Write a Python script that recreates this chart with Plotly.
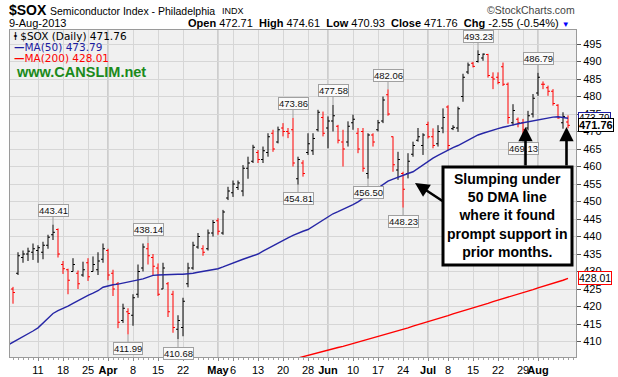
import pandas as pd
import plotly.graph_objects as go

# ---------------- data ----------------
HOLIDAYS = {"2013-03-29", "2013-05-27", "2013-07-04"}
trading_days = [d.strftime("%Y-%m-%d") for d in pd.bdate_range("2013-03-01", "2013-08-09")
                if d.strftime("%Y-%m-%d") not in HOLIDAYS]
bar_dates = trading_days[1:]          # 4-Mar-2013 .. 9-Aug-2013

opens = [
    425.0, 429.5, 434.0, 435.0, 435.5,
    436.0, 435.5, 437.5, 440.5, 442.0,
    432.0, 430.5, 430.0, 429.5, 429.0,
    432.5, 430.0, 430.5, 433.5,
    436.0, 429.5, 426.5, 416.0, 418.5,
    417.5, 423.5, 431.0, 436.5, 434.0,
    431.0, 425.0, 426.5, 423.5, 413.5,
    414.0, 426.5, 431.0, 437.0, 436.5,
    436.5, 441.0, 444.5, 441.0, 451.0,
    452.5, 454.0, 453.0, 459.5, 461.5,
    464.0, 462.0, 464.0, 469.5, 467.0,
    471.0, 470.0, 470.5, 456.5, 461.0,
    464.0, 464.5, 470.5, 474.0,
    471.0, 473.0, 471.5, 467.0, 467.0,
    472.5, 469.5, 470.0, 458.0, 469.0,
    470.5, 473.0, 480.5, 468.5, 459.0,
    458.0, 458.0, 463.5, 467.5, 466.0,
    472.0, 468.5, 466.5, 471.0,
    477.0, 470.8, 471.0, 480.0, 487.0,
    489.5, 490.0, 491.0, 492.0, 485.5,
    485.5, 488.5, 483.5, 472.5, 473.5,
    472.5, 471.0, 475.0, 481.0, 483.5,
    482.5, 481.5, 477.5, 472.5, 472.71,
]
highs = [
    425.6, 435.5, 436.0, 436.8, 438.0,
    437.5, 438.5, 440.5, 443.41, 442.3,
    433.0, 430.8, 433.8, 430.3, 432.8,
    433.8, 434.3, 435.5, 438.0,
    436.5, 430.5, 427.0, 420.8, 419.5,
    423.5, 432.0, 438.0, 438.14, 435.0,
    432.3, 432.5, 427.0, 424.5, 417.5,
    422.5, 432.5, 438.5, 441.0, 437.5,
    442.0, 444.7, 445.2, 447.6, 454.2,
    456.0, 456.0, 460.4, 462.8, 466.2,
    464.7, 465.7, 469.5, 470.5, 471.4,
    472.4, 471.0, 473.86, 462.8, 461.8,
    469.5, 469.5, 476.2, 475.7,
    474.3, 477.58, 471.9, 470.5, 472.9,
    474.8, 471.0, 471.0, 469.5, 469.5,
    473.3, 480.0, 482.06, 468.6, 464.2,
    458.5, 463.8, 467.1, 471.0, 469.5,
    472.8, 470.9, 471.8, 476.6,
    477.5, 471.8, 477.1, 486.5, 489.7,
    489.9, 493.23, 492.3, 492.2, 486.9,
    486.9, 489.7, 484.0, 477.8, 474.0,
    473.6, 475.9, 480.7, 486.79, 484.3,
    483.1, 482.1, 477.8, 475.5, 474.61,
]
lows = [
    420.8, 429.0, 432.5, 433.0, 433.3,
    432.5, 433.5, 436.5, 439.0, 434.0,
    429.3, 423.5, 430.0, 425.0, 428.5,
    427.3, 430.0, 429.0, 432.5,
    427.5, 423.0, 413.8, 415.3, 411.99,
    414.5, 422.5, 430.0, 432.0, 429.0,
    423.0, 425.0, 417.0, 412.5, 410.68,
    411.5, 425.5, 430.5, 436.5, 434.5,
    436.0, 440.0, 440.5, 440.5, 450.4,
    451.3, 453.3, 451.5, 456.5, 461.0,
    461.0, 461.0, 462.8, 464.2, 466.6,
    468.6, 468.1, 460.0, 454.81, 457.1,
    463.3, 463.3, 470.0, 468.6,
    465.2, 470.0, 466.6, 460.0, 465.7,
    470.5, 463.8, 458.5, 456.5, 465.7,
    470.0, 472.4, 474.5, 458.5, 456.2,
    448.23, 456.6, 462.8, 467.1, 463.3,
    468.0, 465.2, 465.7, 469.5,
    464.7, 470.4, 469.9, 478.5, 486.4,
    488.3, 489.7, 490.2, 485.4, 482.1,
    483.5, 483.0, 472.2, 471.7, 471.2,
    469.13, 470.3, 474.0, 480.2, 482.1,
    480.2, 477.4, 473.6, 470.8, 470.93,
]
closes = [
    424.0, 434.5, 435.0, 435.8, 436.5,
    436.8, 437.5, 439.8, 441.2, 435.0,
    430.8, 427.5, 432.0, 426.5, 430.5,
    428.5, 432.0, 433.0, 436.5,
    429.0, 425.0, 415.5, 419.5, 418.0,
    422.5, 430.0, 437.0, 434.5, 431.5,
    423.5, 431.0, 418.5, 414.0, 416.0,
    421.5, 431.0, 437.5, 440.0, 435.5,
    441.0, 444.0, 441.5, 447.0, 453.0,
    455.0, 455.3, 459.5, 461.0, 465.5,
    462.0, 464.5, 468.5, 465.0, 470.5,
    470.0, 469.5, 461.0, 462.0, 458.0,
    466.5, 468.0, 475.5, 469.5,
    473.0, 474.5, 467.5, 465.0, 471.5,
    473.5, 465.0, 459.5, 469.0, 467.0,
    472.5, 479.0, 475.0, 460.5, 462.0,
    453.5, 461.5, 466.0, 468.5, 469.0,
    468.5, 466.0, 470.0, 474.0,
    466.0, 471.2, 476.5, 485.5, 489.0,
    488.6, 492.0, 492.1, 486.0, 485.0,
    484.0, 483.5, 474.0, 476.0, 472.5,
    470.5, 474.5, 479.5, 485.5, 483.5,
    481.5, 478.0, 473.9, 474.31, 471.76,
]
# MA(50), 1-Mar-2013 .. 9-Aug-2013
ma50 = [
    409.0, 409.8, 410.5, 411.2, 412.0, 413.0,
    413.9, 415.2, 416.6, 418.0, 418.8,
    419.4, 420.1, 420.9, 421.7, 422.5,
    423.2, 423.8, 424.5, 425.5,
    425.9, 426.2, 426.4, 426.7, 426.9,
    427.2, 427.5, 427.9, 428.4, 428.9,
    429.0, 429.1, 429.2, 429.2, 429.2,
    429.2, 429.3, 429.5, 429.8, 430.0,
    430.3, 430.5, 430.8, 431.3, 431.9,
    432.5, 433.1, 433.5, 434.0, 434.5,
    435.0, 435.8, 436.6, 437.4, 438.2,
    438.9, 439.6, 440.3, 441.0, 441.5,
    442.0, 442.9, 443.8, 444.7,
    445.6, 446.5, 447.1, 447.7, 448.3,
    449.1, 449.9, 450.9, 451.9, 452.8,
    453.8, 454.8, 455.8, 456.4, 457.0,
    457.5, 458.0, 458.5, 459.5, 460.5,
    461.5, 462.4, 463.2, 464.0,
    464.8, 465.4, 466.0, 466.8, 467.6,
    468.4, 469.0, 469.5, 470.0, 470.4,
    470.8, 471.2, 471.6, 471.9, 472.2,
    472.5, 472.8, 473.1, 473.4, 473.7,
    473.9, 474.1, 474.2, 474.1, 473.79,
]
# MA(200), 22-May-2013 .. 9-Aug-2013
ma200 = [
    404.9, 405.3, 405.7,
    406.0, 406.4, 406.8, 407.1,
    407.5, 407.9, 408.3, 408.6, 409.0,
    409.4, 409.8, 410.1, 410.5, 410.9,
    411.3, 411.8, 412.2, 412.6, 413.1,
    413.5, 413.9, 414.4, 414.8, 415.2,
    415.7, 416.1, 416.6, 417.0,
    417.4, 417.9, 418.3, 418.8, 419.2,
    419.6, 420.1, 420.5, 420.9, 421.4,
    421.8, 422.2, 422.7, 423.1, 423.5,
    424.0, 424.4, 424.8, 425.3, 425.7,
    426.1, 426.6, 427.0, 427.5, 428.01,
]
ma200_dates = bar_dates[-len(ma200):]

tick_dates = ["2013-03-11", "2013-03-18", "2013-03-25", "2013-04-01", "2013-04-08",
              "2013-04-15", "2013-04-22", "2013-05-01", "2013-05-06", "2013-05-13",
              "2013-05-20", "2013-05-28", "2013-06-03", "2013-06-10", "2013-06-17",
              "2013-06-24", "2013-07-01", "2013-07-08", "2013-07-15", "2013-07-22",
              "2013-07-29", "2013-08-01"]
tick_text = ["11", "18", "25", "<b>Apr</b>", "8", "15", "22", "<b>May</b>", "6", "13",
             "20", "28", "<b>Jun</b>", "10", "17", "24", "<b>Jul</b>", "8", "15", "22",
             "29", "<b>Aug</b>"]
month_dates = ["2013-04-01", "2013-05-01", "2013-06-03", "2013-07-01", "2013-08-01"]

# extreme-price call-outs: (date, value, above?)
callouts = [
    ("2013-03-14", 443.41, True), ("2013-04-05", 411.99, False),
    ("2013-04-11", 438.14, True), ("2013-04-19", 410.68, False),
    ("2013-05-22", 473.86, True), ("2013-05-23", 454.81, False),
    ("2013-06-04", 477.58, True), ("2013-06-13", 456.50, False),
    ("2013-06-19", 482.06, True), ("2013-06-24", 448.23, False),
    ("2013-07-16", 493.23, True), ("2013-07-29", 469.13, False),
    ("2013-08-01", 486.79, True),
]

# ---------------- geometry helpers ----------------
pos = {d: i - 1 for i, d in enumerate(trading_days)}   # 1-Mar -> -1, 4-Mar -> 0
W, H = 618, 377
ML, MR, MT, MB = 10, 42, 30, 20
PL, PR, PT, PB = ML, W - MR, MT, H - MB


def px(x):
    return (x - PL) / (PR - PL)


def py(y):
    return (PB - y) / (PB - PT)


bar_x = [pos[d] for d in bar_dates]
prev_close = [opens[0]] + closes[:-1]
is_up = [c >= p for c, p in zip(closes, prev_close)]

FONT = "Liberation Sans, Arial, sans-serif"
VFONT = "DejaVu Sans, Verdana, sans-serif"

fig = go.Figure()


def add_bars(mask, color):
    sel = [i for i, m in enumerate(mask) if m]
    fig.add_trace(go.Ohlc(
        x=[bar_x[i] for i in sel],
        open=[opens[i] for i in sel], high=[highs[i] for i in sel],
        low=[lows[i] for i in sel], close=[closes[i] for i in sel],
        increasing=dict(line=dict(color=color, width=1)),
        decreasing=dict(line=dict(color=color, width=1)),
        tickwidth=0.4, hoverinfo="skip", showlegend=False))


fig.add_trace(go.Scatter(x=[pos[d] for d in trading_days], y=ma50, mode="lines",
                         line=dict(color="#2626A6", width=1.4), hoverinfo="skip"))
fig.add_trace(go.Scatter(x=[pos[d] for d in ma200_dates], y=ma200, mode="lines",
                         line=dict(color="#FF0000", width=1.4), hoverinfo="skip"))
add_bars(is_up, "#000000")
add_bars([not u for u in is_up], "#FF0000")

shapes = []
for d in month_dates:
    shapes.append(dict(type="line", xref="x", yref="paper", x0=pos[d], x1=pos[d], y0=0, y1=1,
                       line=dict(color="#ABABAB", width=1), layer="between"))
# note box
shapes.append(dict(type="rect", xref="paper", yref="paper",
                   x0=px(443), x1=px(572), y0=py(265), y1=py(167),
                   line=dict(color="black", width=3), fillcolor="white", layer="above"))

ann = []
# header
ann.append(dict(xref="paper", yref="paper", x=px(7), y=py(10), xanchor="left", yanchor="middle",
                text="<b>$SOX</b>", showarrow=False, font=dict(family=FONT, size=14, color="black")))
ann.append(dict(xref="paper", yref="paper", x=px(48), y=py(11), xanchor="left", yanchor="middle",
                text="Semiconductor Index - Philadelphia", showarrow=False,
                font=dict(family=FONT, size=10.5, color="black")))
ann.append(dict(xref="paper", yref="paper", x=px(220), y=py(11), xanchor="left", yanchor="middle",
                text="INDX", showarrow=False, font=dict(family=FONT, size=9, color="black")))
ann.append(dict(xref="paper", yref="paper", x=px(577), y=py(10), xanchor="right", yanchor="middle",
                text="©StockCharts.com", showarrow=False, font=dict(family=FONT, size=10.5, color="#444")))
ann.append(dict(xref="paper", yref="paper", x=px(7), y=py(23), xanchor="left", yanchor="middle",
                text="9-Aug-2013", showarrow=False, font=dict(family=FONT, size=11, color="black")))
ann.append(dict(xref="paper", yref="paper", x=px(572), y=py(23), xanchor="right", yanchor="middle",
                text=("<b>Open</b> 472.71  <b>High</b> 474.61  <b>Low</b> 470.93  "
                      "<b>Close</b> 471.76  <b>Chg</b> -2.55 (-0.54%) "
                      "<span style='color:#0000FF;font-size:8px'>▼</span>"),
                showarrow=False, font=dict(family=FONT, size=11, color="black")))
# in-chart legend
ann.append(dict(xref="paper", yref="paper", x=px(12), y=py(36), xanchor="left", yanchor="middle",
                text="ⱡ $SOX (Daily) 471.76", showarrow=False, font=dict(family=VFONT, size=10.5, color="black")))
ann.append(dict(xref="paper", yref="paper", x=px(12), y=py(47), xanchor="left", yanchor="middle",
                text="<b>—</b>MA(50) 473.79", showarrow=False, font=dict(family=VFONT, size=10.5, color="#1C1CA0")))
ann.append(dict(xref="paper", yref="paper", x=px(12), y=py(58), xanchor="left", yanchor="middle",
                text="<b>—</b>MA(200) 428.01", showarrow=False, font=dict(family=VFONT, size=10.5, color="#FF0000")))
ann.append(dict(xref="paper", yref="paper", x=px(14), y=py(72), xanchor="left", yanchor="middle",
                text="<b>www.CANSLIM.net</b>", showarrow=False, font=dict(family=FONT, size=14.5, color="#1B8A1B")))

# price call-outs
for d, v, above in callouts:
    ann.append(dict(x=pos[d], y=v, xref="x", yref="y", text=f"{v:.2f}", showarrow=True,
                    arrowhead=0, arrowwidth=1, arrowcolor="#A0A0A0", ax=0, ay=-14 if above else 14,
                    standoff=0, bgcolor="#FAFAFA", bordercolor="#A0A0A0", borderwidth=1, borderpad=0,
                    font=dict(family=FONT, size=9.5, color="#111")))

# right-axis value tags
for v, col, size, bold in [(473.79, "#1C1CA0", 10, False), (471.76, "black", 11, True),
                           (428.01, "#FF0000", 10.5, False)]:
    ann.append(dict(xref="paper", yref="y", x=1, y=v, xanchor="left", yanchor="middle", xshift=2,
                    text=f"<b>{v:.2f}</b>" if bold else f"{v:.2f}", showarrow=False,
                    bgcolor="white", bordercolor=col, borderwidth=1, borderpad=0,
                    font=dict(family=FONT, size=size, color="black")))

# note text and arrows
ann.append(dict(xref="paper", yref="paper", x=px(507.5), y=py(216), xanchor="center", yanchor="middle",
                text="<b>Slumping under<br>50 DMA line<br>where it found<br>prompt support in<br>prior months.</b>",
                showarrow=False, align="center", font=dict(family=FONT, size=14, color="black")))
for hx, hy, dx, dy in [(415, 183, 29, 19), (525.5, 127, 0, 40), (566.5, 127, 0, 40)]:
    ann.append(dict(xref="paper", yref="paper", x=px(hx), y=py(hy), ax=dx, ay=dy, text="",
                    showarrow=True, arrowhead=2, arrowsize=1.1, arrowwidth=2.6, arrowcolor="black",
                    standoff=0))

fig.update_layout(
    width=W, height=H, margin=dict(l=ML, r=MR, t=MT, b=MB, autoexpand=False),
    paper_bgcolor="white", plot_bgcolor="#F0F0F0", showlegend=False,
    font=dict(family=FONT, size=11, color="black"),
    shapes=shapes, annotations=ann,
    xaxis=dict(range=[-0.6, 112.6], tickmode="array", tickvals=[pos[d] for d in tick_dates],
               ticktext=tick_text, tickangle=0, automargin=False,
               showgrid=True, gridcolor="#D6D6D6", gridwidth=1, zeroline=False,
               ticks="outside", ticklen=3, tickcolor="#888", showline=True, linecolor="#9A9A9A",
               mirror=True, rangeslider=dict(visible=False), fixedrange=True,
               tickfont=dict(family=FONT, size=11, color="black"),
               minor=dict(tickmode="linear", dtick=1, tick0=0, ticklen=2, tickcolor="#A0A0A0",
                          ticks="outside", showgrid=False)),
    yaxis=dict(range=[405.57, 499.0], side="right", tickmode="linear", tick0=410, dtick=5,
               automargin=False,
               showgrid=True, gridcolor="#D6D6D6", gridwidth=1, zeroline=False,
               ticks="outside", ticklen=4, tickcolor="#555", showline=True, linecolor="#9A9A9A",
               mirror=True, fixedrange=True, tickfont=dict(family=FONT, size=11, color="black")),
)

fig.write_html("out.html", config={"displayModeBar": False},
               post_script="document.body.style.margin='0';document.body.style.overflow='hidden';")
